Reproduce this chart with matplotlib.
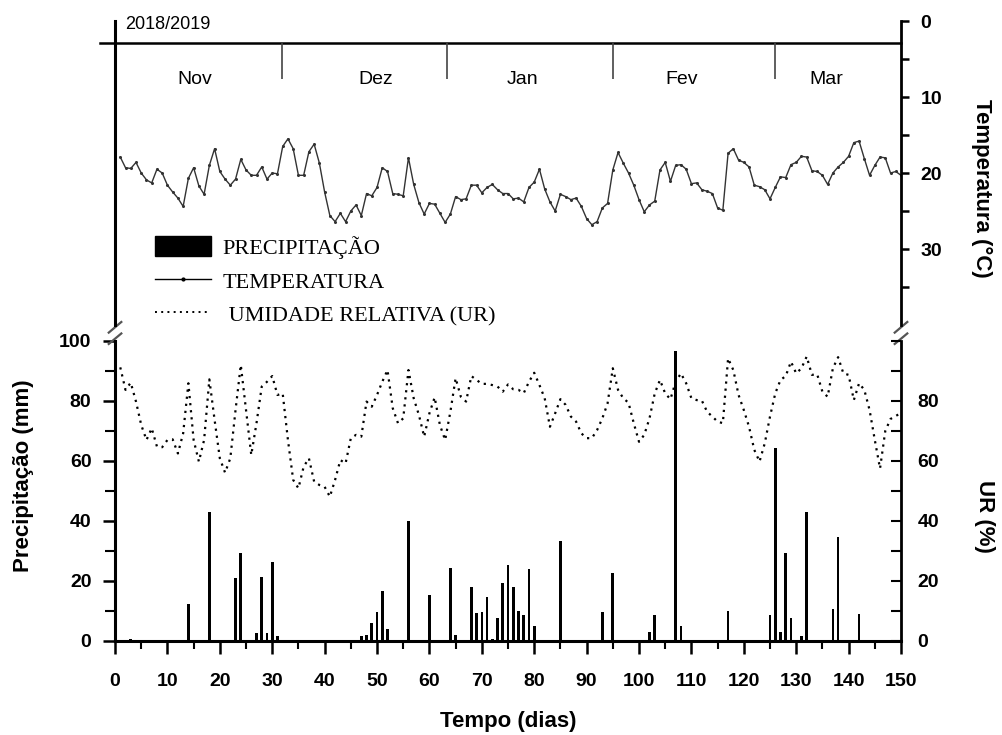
import numpy as np
import matplotlib
matplotlib.use("Agg")
import matplotlib.pyplot as plt
from matplotlib.patches import Patch
from matplotlib.lines import Line2D
from matplotlib.ticker import MultipleLocator, FixedLocator, FixedFormatter

plt.rcParams['font.family'] = ['Liberation Sans', 'DejaVu Sans']
plt.rcParams['font.weight'] = 'bold'

# dados (dias 1..150)
dias = np.arange(1, 151)

temperatura = [
    17.9, 19.3, 19.4, 18.6, 20.0, 20.9, 21.3, 19.5, 20.0, 21.6,
    22.5, 23.3, 24.4, 20.7, 19.3, 21.7, 22.8, 19.0, 16.8, 19.8,
    20.8, 21.6, 20.8, 18.2, 19.6, 20.3, 20.3, 19.2, 20.8, 20.0,
    20.1, 16.5, 15.5, 16.8, 20.3, 20.3, 17.2, 16.2, 18.7, 22.5,
    25.6, 26.4, 25.3, 26.4, 25.0, 24.2, 25.6, 22.7, 23.0, 21.9,
    19.3, 19.8, 22.7, 22.8, 23.0, 18.0, 21.5, 23.9, 25.4, 24.0,
    24.1, 25.3, 26.5, 25.4, 23.1, 23.5, 23.4, 21.6, 21.6, 22.6,
    21.9, 21.5, 22.2, 22.7, 22.7, 23.4, 23.3, 23.8, 21.9, 21.2,
    19.5, 22.1, 23.8, 25.0, 22.8, 23.1, 23.5, 23.3, 24.4, 26.0,
    26.8, 26.4, 24.6, 24.0, 19.6, 17.3, 18.7, 20.0, 21.6, 23.5,
    25.1, 24.2, 23.7, 19.6, 18.6, 21.1, 19.0, 18.9, 19.5, 21.4,
    21.3, 22.2, 22.4, 22.7, 24.6, 24.9, 17.4, 16.8, 18.3, 18.6,
    19.2, 21.6, 21.8, 22.2, 23.4, 21.9, 20.5, 20.6, 18.9, 18.6,
    17.8, 17.9, 19.7, 19.8, 20.3, 21.5, 20.0, 19.2, 18.6, 17.8,
    16.0, 15.8, 18.1, 20.3, 19.0, 17.9, 18.0, 20.0, 19.8, 20.3,
]

umidade = [
    91.2, 83.7, 86.1, 79.8, 72.0, 67.0, 70.9, 64.8, 64.6, 67.0,
    67.2, 62.5, 69.2, 85.9, 67.0, 59.8, 67.0, 87.2, 73.7, 60.9,
    56.1, 60.9, 77.0, 92.0, 77.0, 62.0, 72.6, 84.8, 86.4, 88.3,
    82.0, 82.5, 67.0, 53.7, 50.9, 58.1, 60.9, 53.1, 52.0, 51.4,
    48.1, 53.7, 60.3, 59.2, 67.6, 68.7, 68.1, 79.8, 78.1, 82.0,
    86.4, 90.3, 77.6, 72.6, 74.2, 90.3, 80.9, 75.3, 68.1, 75.9,
    81.2, 72.0, 67.0, 76.4, 87.6, 81.4, 79.8, 88.3, 87.0, 85.7,
    85.7, 85.3, 84.8, 83.1, 85.5, 83.9, 83.7, 82.6, 86.4, 89.4,
    85.3, 80.9, 71.4, 75.9, 80.6, 78.7, 74.8, 73.1, 69.2, 67.6,
    67.6, 70.3, 74.2, 79.2, 90.9, 83.7, 80.9, 79.4, 72.6, 66.4,
    68.7, 74.2, 82.5, 87.0, 82.5, 80.6, 86.4, 89.2, 85.9, 80.9,
    80.3, 80.1, 76.4, 74.8, 73.1, 72.6, 94.2, 90.3, 82.0, 77.0,
    71.4, 63.7, 59.8, 65.9, 74.8, 82.5, 87.0, 88.3, 93.1, 89.2,
    90.9, 94.8, 88.7, 88.9, 83.1, 81.4, 90.9, 94.6, 89.2, 88.7,
    80.3, 85.9, 83.7, 77.0, 67.0, 57.5, 70.0, 74.0, 75.0, 76.0,
]

chuva_dias = [3, 14, 18, 23, 24, 27, 28, 29, 30, 31,
              47, 48, 49, 50, 51, 52, 56, 60, 64, 65,
              68, 69, 70, 71, 72, 73, 74, 75, 76, 77,
              78, 79, 80, 85, 93, 95, 102, 103, 107, 108,
              117, 125, 126, 127, 128, 129, 131, 132, 137, 138,
              142]
chuva_mm = [0.8, 12.2, 43.1, 20.9, 29.4, 2.5, 21.3, 2.5, 26.4, 1.7,
            1.5, 2.0, 6.1, 9.7, 16.8, 4.1, 40.1, 15.2, 24.4, 2.0,
            17.9, 9.2, 9.5, 14.8, 0.8, 7.6, 19.2, 25.3, 18.1, 10.0,
            8.6, 23.9, 5.1, 33.4, 9.6, 22.8, 3.1, 8.6, 96.8, 5.1,
            10.0, 8.6, 64.3, 3.1, 29.4, 7.6, 1.5, 43.1, 10.7, 34.6,
            9.1]

meses = ['Nov', 'Dez', 'Jan', 'Fev', 'Mar']
meses_centro = [15.3, 49.8, 77.7, 108.2, 135.7]
meses_limite = [31.8, 63.3, 95.1, 126.0]

fig = plt.figure(figsize=(10.02, 7.35), dpi=100)
ax_t = fig.add_axes([0.1148, 0.5578, 0.7844, 0.4136])
ax_b = fig.add_axes([0.1148, 0.1279, 0.7844, 0.4082])

# ---- painel superior: temperatura
ax_t.plot(dias, temperatura, color='#333333', lw=1.0, marker='o', ms=1.2)
ax_t.set_xlim(0, 150)
ax_t.set_ylim(40, 0)
ax_t.spines['top'].set_visible(False)
ax_t.spines['bottom'].set_visible(False)
ax_t.spines['left'].set_linewidth(2.2)
ax_t.spines['right'].set_linewidth(2.0)
ax_t.tick_params(axis='x', bottom=False, labelbottom=False)
ax_t.yaxis.tick_right()
ax_t.yaxis.set_major_locator(FixedLocator([0, 10, 20, 30]))
ax_t.yaxis.set_minor_locator(FixedLocator([5, 15, 25, 35]))
ax_t.tick_params(axis='y', which='both', direction='out', length=6, width=1.8,
                 labelsize=14, pad=8)

# faixa dos meses
ax_t.plot([-2.9, 150], [2.9, 2.9], color='k', lw=1.8, clip_on=False)
ax_t.vlines(meses_limite, 2.9, 7.6, color='#444444', lw=1.2)
for m, xc in zip(meses, meses_centro):
    ax_t.text(xc, 7.7, m, ha='center', va='center', fontsize=14, fontweight='normal')
ax_t.text(1.9, 0.45, '2018/2019', ha='left', va='center', fontsize=13, fontweight='normal')

# ---- painel inferior: precipitacao e UR
ax_b.bar(chuva_dias, chuva_mm, width=0.5, color='k')
ax_b.plot(dias, umidade, color='k', lw=1.6, ls=(0, (1.0, 2.2)))
ax_b.set_xlim(0, 150)
ax_b.set_ylim(0, 100)
ax_b.spines['top'].set_visible(False)
ax_b.spines['left'].set_linewidth(2.2)
ax_b.spines['bottom'].set_linewidth(2.2)
ax_b.spines['right'].set_linewidth(2.0)
ax_b.xaxis.set_major_locator(MultipleLocator(10))
ax_b.xaxis.set_minor_locator(MultipleLocator(5))
ax_b.yaxis.set_major_locator(MultipleLocator(20))
ax_b.yaxis.set_minor_locator(MultipleLocator(10))
ax_b.tick_params(axis='x', which='major', direction='out', length=9, width=1.8,
                 labelsize=14, pad=14)
ax_b.tick_params(axis='x', which='minor', direction='out', length=6, width=1.5)
ax_b.tick_params(axis='y', which='major', direction='out', length=9, width=1.8,
                 labelsize=14, pad=8)
ax_b.tick_params(axis='y', which='minor', direction='out', length=7, width=1.5)

ax_r = ax_b.twinx()
ax_r.set_ylim(0, 100)
for s in ['top', 'left', 'bottom', 'right']:
    ax_r.spines[s].set_visible(False)
ur_ticks = list(range(0, 101, 10))
ur_labels = ['0', '', '20', '', '40', '', '60', '', '80', '', '']
ax_r.yaxis.set_major_locator(FixedLocator(ur_ticks))
ax_r.yaxis.set_major_formatter(FixedFormatter(ur_labels))
ax_r.tick_params(axis='y', direction='in', length=7, width=1.5, labelsize=14, pad=12)

# marcas de quebra do eixo
kw = dict(color='#555555', lw=1.6, clip_on=False)
for xa in (0, 1):
    ax_t.plot([xa - 0.008, xa + 0.008], [-0.025, 0.01], transform=ax_t.transAxes, **kw)
    ax_b.plot([xa - 0.008, xa + 0.008], [0.99, 1.025], transform=ax_b.transAxes, **kw)

# rotulos
fig.text(24 / 1002, 1 - 476 / 735, 'Precipitação (mm)', rotation=90,
         ha='center', va='center', fontsize=16)
fig.text(508 / 1002, 1 - 722 / 735, 'Tempo (dias)', ha='center', va='center', fontsize=16)
fig.text(982 / 1002, 1 - 188 / 735, 'Temperatura (°C)', rotation=-90,
         ha='center', va='center', fontsize=16)
fig.text(984 / 1002, 1 - 516 / 735, 'UR (%)', rotation=-90,
         ha='center', va='center', fontsize=16)

# legenda
handles = [Patch(facecolor='k', edgecolor='k'),
           Line2D([], [], color='k', lw=1.0, marker='o', ms=2),
           Line2D([], [], color='k', lw=1.4, ls=(0, (1.0, 2.2)))]
labels = ['PRECIPITAÇÃO', 'TEMPERATURA', ' UMIDADE RELATIVA (UR)']
fig.legend(handles, labels, loc='upper left', bbox_to_anchor=(155 / 1002, 1 - 236 / 735),
           frameon=False, prop={'family': 'Liberation Serif', 'size': 16, 'weight': 'normal'},
           handlelength=2.5, handleheight=1.0, handletextpad=0.55, labelspacing=0.5,
           borderpad=0, borderaxespad=0)

fig.savefig('out.png', dpi=100)
